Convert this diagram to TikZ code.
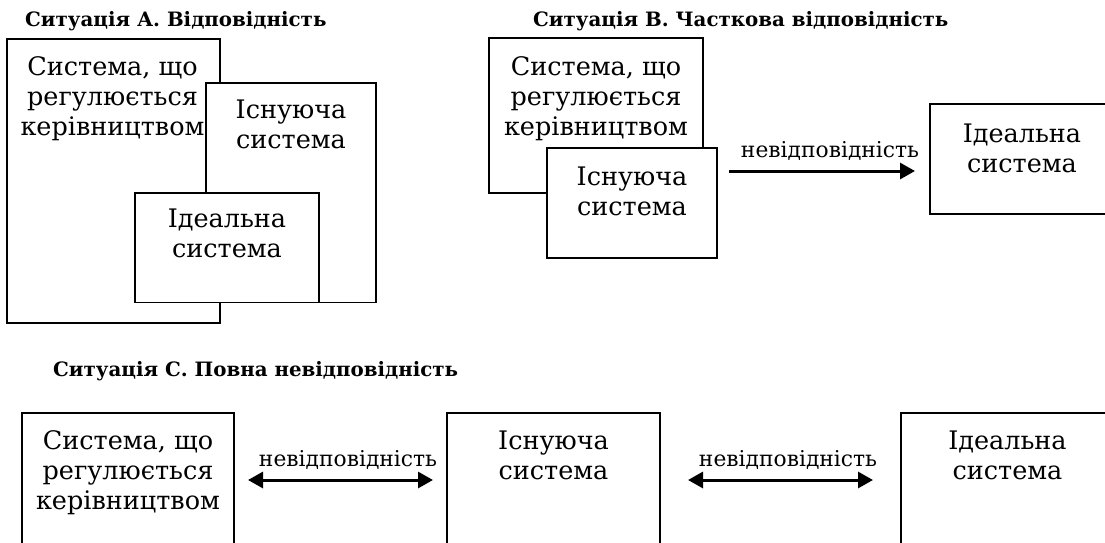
\documentclass[tikz,border=0pt]{standalone}
\usepackage{fontspec}
\setmainfont{DejaVu Serif}
\usetikzlibrary{arrows.meta}
\newcommand\stk[1]{\vtop{\baselineskip=30pt\lineskiplimit=-100pt\halign{\hfil##\hfil\cr#1\crcr}}}
\tikzset{
  box/.style={draw, line width=1.5pt, fill=white, inner sep=0pt, outer sep=0pt},
  txt/.style={font=\fontsize{25.5}{30}\selectfont, anchor=base, inner sep=0pt},
  ttl/.style={font=\bfseries\fontsize{19.8}{22}\selectfont, anchor=base west, inner sep=0pt},
  lbl/.style={font=\fontsize{21.8}{24}\selectfont, anchor=base, inner sep=0pt},
  arr/.style={line width=3pt, -{Triangle[length=15pt,width=16pt]}},
  darr/.style={line width=3pt, {Triangle[length=15pt,width=16pt]}-{Triangle[length=15pt,width=16pt]}}
}
\begin{document}
\begin{tikzpicture}[x=1pt,y=-1pt]
\useasboundingbox (0,0) rectangle (1105,542);
\clip (0,0) rectangle (1105,542);
% titles
\node[ttl] (tA) at (25,26) {Ситуація А. Відповідність};
\node[ttl] (tB) at (533,26) {Ситуація В. Часткова відповідність};
\node[ttl] (tC) at (53,376) {Ситуація С. Повна невідповідність};
% Situation A
\node[box, minimum width=213pt, minimum height=284pt] (A1) at (113.5,181) {};
\node[box, minimum width=170pt, minimum height=219.5pt] (A2) at (291,192.75) {};
\node[txt] (A2t) at (291,118) {\stk{Існуюча\cr система}};
\node[box, minimum width=184pt, minimum height=109.5pt] (A3) at (227,247.75) {};
\node[txt] (A3t) at (227,227) {\stk{Ідеальна\cr система}};
\node[txt] (A1t) at (112.5,75) {\stk{Система, що\cr регулюється\cr керівництвом}};
% Situation B
\node[box, minimum width=214pt, minimum height=155pt] (B1) at (596,115.5) {};
\node[txt] (B1t) at (596,75) {\stk{Система, що\cr регулюється\cr керівництвом}};
\node[box, minimum width=170pt, minimum height=110pt] (B2) at (632,203) {};
\node[txt] (B2t) at (632,185) {\stk{Існуюча\cr система}};
\node[box, minimum width=184pt, minimum height=110pt] (B3) at (1022,159) {};
\node[txt] (B3t) at (1022,142) {\stk{Ідеальна\cr система}};
\coordinate (yB) at (0,171);
\draw[arr, shorten <=12pt, shorten >=15pt] (B2.east |- yB) -- (B3.west |- yB);
\node[lbl] (Bl) at (830,157) {невідповідність};
% Situation C
\node[box, minimum width=212pt, minimum height=250pt] (C1) at (128,538) {};
\node[txt] (C1t) at (128,449) {\stk{Система, що\cr регулюється\cr керівництвом}};
\node[box, minimum width=213pt, minimum height=250pt] (C2) at (553.5,538) {};
\node[txt] (C2t) at (553.5,449) {\stk{Існуюча\cr система}};
\node[box, minimum width=213pt, minimum height=250pt] (C3) at (1007.5,538) {};
\node[txt] (C3t) at (1007.5,449) {\stk{Ідеальна\cr система}};
\coordinate (yC) at (0,480);
\draw[darr, shorten <=14pt, shorten >=14pt] (C1.east |- yC) -- (C2.west |- yC);
\draw[darr, shorten <=28pt, shorten >=28pt] (C2.east |- yC) -- (C3.west |- yC);
\node[lbl] (Cl1) at (348,466) {невідповідність};
\node[lbl] (Cl2) at (788,466) {невідповідність};
\end{tikzpicture}
\end{document}
